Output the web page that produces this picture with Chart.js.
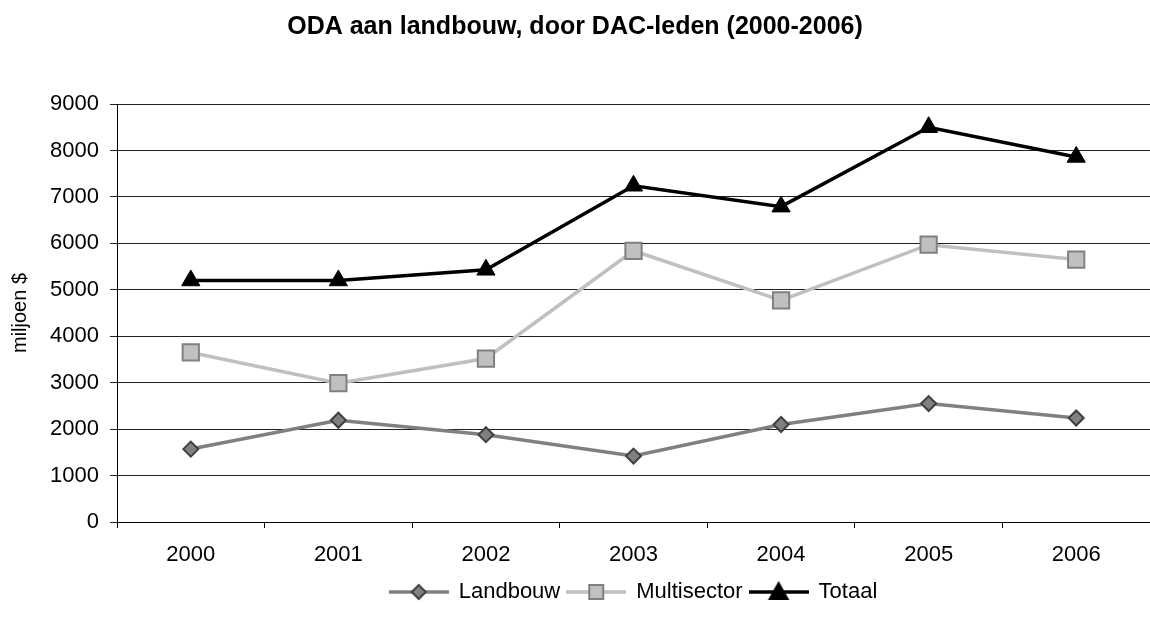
<!DOCTYPE html>
<html>
<head>
<meta charset="utf-8">
<script src="https://cdn.jsdelivr.net/npm/chart.js@4"></script>
<style>
  html, body { margin: 0; padding: 0; background: #fff; }
  #wrap { width: 1150px; height: 630px; }
</style>
</head>
<body>
<div id="wrap"><canvas id="oda-chart" width="1150" height="630"></canvas></div>
<script>
const years = ['2000', '2001', '2002', '2003', '2004', '2005', '2006'];
const landbouw = [1570, 2190, 1880, 1420, 2100, 2550, 2240];
const multisector = [3650, 2990, 3520, 5840, 4770, 5970, 5650];
const totaal = [5200, 5200, 5430, 7240, 6790, 8500, 7860];
const yTicks = [0, 1000, 2000, 3000, 4000, 5000, 6000, 7000, 8000, 9000];

const FONT = 'Arial, "Liberation Sans", sans-serif';

// small picture for the legend: a line with the marker in the middle
function legendIcon(lineColor, fill, border, shape) {
    const c = document.createElement('canvas');
    c.width = 60;
    c.height = 22;
    const ctx = c.getContext('2d');
    ctx.strokeStyle = lineColor;
    ctx.lineWidth = 3.5;
    ctx.beginPath();
    ctx.moveTo(0, 11);
    ctx.lineTo(60, 11);
    ctx.stroke();
    ctx.fillStyle = fill;
    ctx.strokeStyle = border;
    ctx.lineWidth = 2;
    ctx.beginPath();
    if (shape === 'diamond') {
        ctx.moveTo(30, 4); ctx.lineTo(37, 11); ctx.lineTo(30, 18); ctx.lineTo(23, 11);
    } else if (shape === 'square') {
        ctx.rect(23, 4, 14, 14);
    } else {
        ctx.moveTo(30, 2); ctx.lineTo(39, 18); ctx.lineTo(21, 18);
    }
    ctx.closePath();
    ctx.fill();
    ctx.stroke();
    return c;
}

const icons = [
    legendIcon('#808080', '#808080', '#404040', 'diamond'),
    legendIcon('#c0c0c0', '#c0c0c0', '#808080', 'square'),
    legendIcon('#000000', '#000000', '#000000', 'triangle')
];

// legend is centred under the plot area, not under the whole canvas
const legendUnderPlot = {
    id: 'legendUnderPlot',
    afterLayout(chart) {
        chart.legend.left = chart.chartArea.left;
        chart.legend.right = chart.chartArea.right;
    }
};

new Chart(document.getElementById('oda-chart').getContext('2d'), {
    type: 'line',
    data: {
        labels: years,
        datasets: [
            {
                label: 'Landbouw',
                data: landbouw,
                borderColor: '#808080',
                borderWidth: 3.5,
                pointStyle: 'rectRot',
                pointRadius: 7.5,
                pointBackgroundColor: '#808080',
                pointBorderColor: '#404040',
                pointBorderWidth: 2
            },
            {
                label: 'Multisector',
                data: multisector,
                borderColor: '#c0c0c0',
                borderWidth: 3.5,
                pointStyle: 'rect',
                pointRadius: 11.5,
                pointBackgroundColor: '#c0c0c0',
                pointBorderColor: '#808080',
                pointBorderWidth: 2
            },
            {
                label: 'Totaal',
                data: totaal,
                borderColor: '#000000',
                borderWidth: 3.5,
                pointStyle: 'triangle',
                pointRadius: 10.5,
                pointBackgroundColor: '#000000',
                pointBorderColor: '#000000',
                pointBorderWidth: 1
            }
        ]
    },
    options: {
        responsive: false,
        animation: false,
        layout: { autoPadding: false, padding: { left: 0, right: 0, top: 0, bottom: 17 } },
        plugins: {
            title: {
                display: true,
                text: 'ODA aan landbouw, door DAC-leden (2000-2006)',
                color: '#000',
                font: { family: FONT, size: 25, weight: 'bold' },
                padding: { top: 12, bottom: 62 }
            },
            legend: {
                position: 'bottom',
                labels: {
                    color: '#000',
                    font: { family: FONT, size: 22 },
                    usePointStyle: true,
                    pointStyleWidth: 58,
                    padding: 7,
                    generateLabels: chart => chart.data.datasets.map((ds, i) => ({
                        text: ds.label,
                        pointStyle: icons[i],
                        fillStyle: ds.borderColor,
                        strokeStyle: ds.borderColor,
                        lineWidth: 0,
                        hidden: false,
                        datasetIndex: i
                    }))
                }
            },
            tooltip: { enabled: false }
        },
        scales: {
            x: {
                offset: true,
                grid: {
                    offset: true,
                    drawOnChartArea: false,
                    drawTicks: true,
                    tickLength: 6,
                    color: '#000'
                },
                border: { color: '#000', width: 1 },
                ticks: {
                    color: '#000',
                    font: { family: FONT, size: 22 },
                    padding: 14,
                    maxRotation: 0
                },
                afterFit: scale => {
                    scale.height = 52;
                    scale.paddingLeft = 0;
                    scale.paddingRight = 0;
                }
            },
            y: {
                min: 0,
                max: 9000,
                afterBuildTicks: scale => { scale.ticks = yTicks.map(v => ({ value: v })); },
                grid: {
                    color: '#222',
                    lineWidth: 1,
                    drawTicks: true,
                    tickLength: 7
                },
                border: { color: '#000', width: 1 },
                ticks: {
                    color: '#000',
                    font: { family: FONT, size: 22 },
                    padding: 11,
                    callback: v => String(v)
                },
                title: {
                    display: true,
                    text: 'miljoen $',
                    color: '#000',
                    font: { family: FONT, size: 20 },
                    padding: { top: 8, bottom: 0 }
                },
                afterFit: scale => { scale.width = 117; }
            }
        }
    },
    plugins: [legendUnderPlot]
});
</script>
</body>
</html>
